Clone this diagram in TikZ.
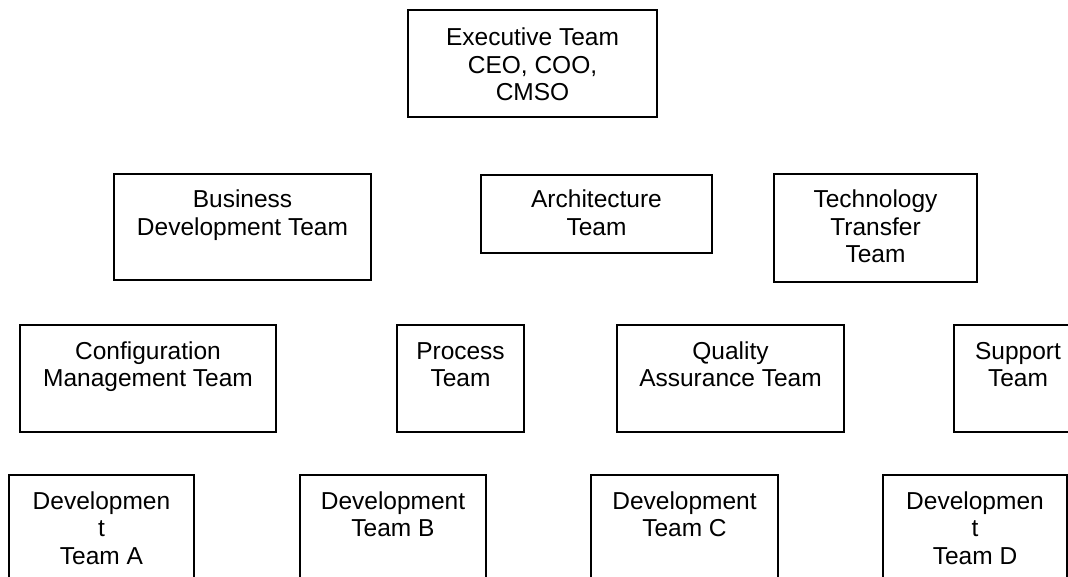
\documentclass[tikz,border=0pt]{standalone}
\usepackage{fontspec}
\setmainfont{Liberation Sans}
\usepackage{tikz}

\begin{document}
\begin{tikzpicture}[x=1pt, y=-1pt,
    team/.style n args={3}{draw, line width=2pt, anchor=north west, inner xsep=0pt, inner ysep=0pt,
        align=center, font=\fontsize{24.5}{27.5}\selectfont,
        minimum width=#1, text height=#2, text depth=#3}]
            \useasboundingbox (0,0) rectangle (1068,577);
            \clip (0,0) rectangle (1068,577);
            % top level
            \node[team={249pt}{91pt}{16pt}] (exec) at (407,9) {Executive Team\\CEO, COO,\\CMSO};
            % second row
            \node[team={257pt}{61.5pt}{44.5pt}] (bizdev) at (113,173) {Business\\Development Team};
            \node[team={231pt}{60.5pt}{17.5pt}] (arch) at (480,174) {Architecture\\Team};
            \node[team={203pt}{89pt}{19pt}] (techtrans) at (773,173) {Technology\\Transfer\\Team};
            % third row
            \node[team={256pt}{61.5pt}{45.5pt}] (config) at (19,324) {Configuration\\Management Team};
            \node[team={127pt}{61.5pt}{45.5pt}] (process) at (396,324) {Process\\Team};
            \node[team={227pt}{61.5pt}{45.5pt}] (quality) at (616,324) {Quality\\Assurance Team};
            \node[team={128pt}{61.5pt}{45.5pt}] (support) at (953,324) {Support\\Team};
            % development teams
            \node[team={185pt}{89pt}{41pt}] (devA) at (8,474) {Developmen\\t\\Team A};
            \node[team={186pt}{61.5pt}{68.5pt}] (devB) at (299,474) {Development\\Team B};
            \node[team={187pt}{61.5pt}{68.5pt}] (devC) at (590,474) {Development\\Team C};
            \node[team={184pt}{89pt}{41pt}] (devD) at (882,474) {Developmen\\t\\Team D};
        \end{tikzpicture}
\end{document}
